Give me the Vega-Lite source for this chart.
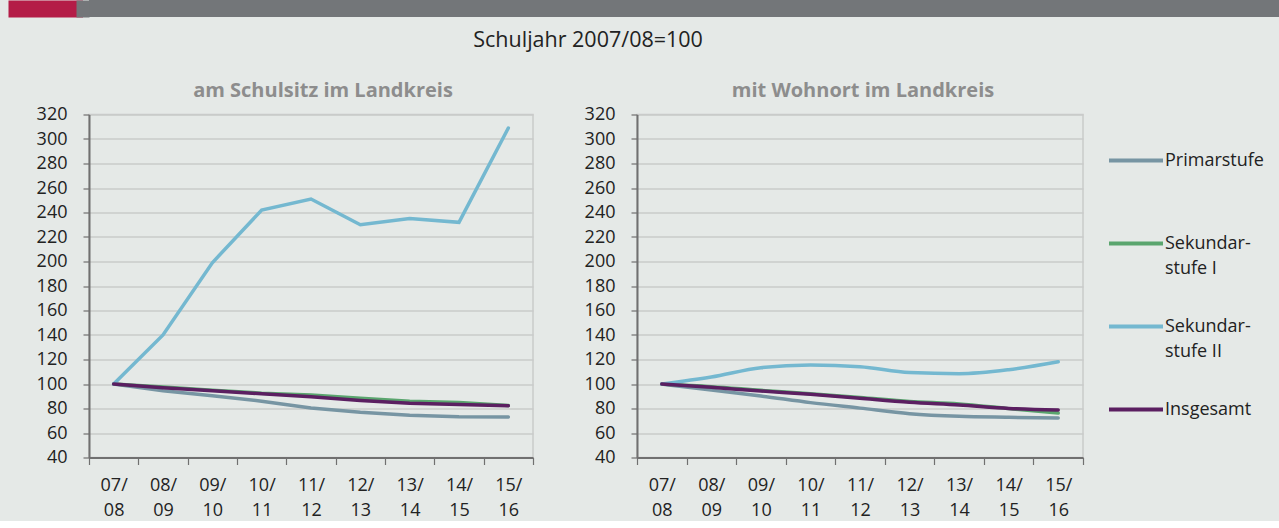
{
  "$schema": "https://vega.github.io/schema/vega-lite/v6.json",
  "background": "#e5e9e7",
  "padding": {"left": 0, "top": 0, "right": 0, "bottom": 0},
  "datasets": {
    "schuljahre": [
      {"Bezug": "Schulsitz", "Stufe": "Primarstufe", "Schuljahr": "07/08", "Index": 100},
      {"Bezug": "Schulsitz", "Stufe": "Primarstufe", "Schuljahr": "08/09", "Index": 94.5},
      {"Bezug": "Schulsitz", "Stufe": "Primarstufe", "Schuljahr": "09/10", "Index": 90.5},
      {"Bezug": "Schulsitz", "Stufe": "Primarstufe", "Schuljahr": "10/11", "Index": 86},
      {"Bezug": "Schulsitz", "Stufe": "Primarstufe", "Schuljahr": "11/12", "Index": 80.5},
      {"Bezug": "Schulsitz", "Stufe": "Primarstufe", "Schuljahr": "12/13", "Index": 77},
      {"Bezug": "Schulsitz", "Stufe": "Primarstufe", "Schuljahr": "13/14", "Index": 74.5},
      {"Bezug": "Schulsitz", "Stufe": "Primarstufe", "Schuljahr": "14/15", "Index": 73.3},
      {"Bezug": "Schulsitz", "Stufe": "Primarstufe", "Schuljahr": "15/16", "Index": 73},
      {"Bezug": "Schulsitz", "Stufe": "Sekundarstufe I", "Schuljahr": "07/08", "Index": 100},
      {"Bezug": "Schulsitz", "Stufe": "Sekundarstufe I", "Schuljahr": "08/09", "Index": 97.5},
      {"Bezug": "Schulsitz", "Stufe": "Sekundarstufe I", "Schuljahr": "09/10", "Index": 95},
      {"Bezug": "Schulsitz", "Stufe": "Sekundarstufe I", "Schuljahr": "10/11", "Index": 92.5},
      {"Bezug": "Schulsitz", "Stufe": "Sekundarstufe I", "Schuljahr": "11/12", "Index": 91},
      {"Bezug": "Schulsitz", "Stufe": "Sekundarstufe I", "Schuljahr": "12/13", "Index": 88.3},
      {"Bezug": "Schulsitz", "Stufe": "Sekundarstufe I", "Schuljahr": "13/14", "Index": 86},
      {"Bezug": "Schulsitz", "Stufe": "Sekundarstufe I", "Schuljahr": "14/15", "Index": 85},
      {"Bezug": "Schulsitz", "Stufe": "Sekundarstufe I", "Schuljahr": "15/16", "Index": 82.5},
      {"Bezug": "Schulsitz", "Stufe": "Sekundarstufe II", "Schuljahr": "07/08", "Index": 100},
      {"Bezug": "Schulsitz", "Stufe": "Sekundarstufe II", "Schuljahr": "08/09", "Index": 140},
      {"Bezug": "Schulsitz", "Stufe": "Sekundarstufe II", "Schuljahr": "09/10", "Index": 199},
      {"Bezug": "Schulsitz", "Stufe": "Sekundarstufe II", "Schuljahr": "10/11", "Index": 242},
      {"Bezug": "Schulsitz", "Stufe": "Sekundarstufe II", "Schuljahr": "11/12", "Index": 251},
      {"Bezug": "Schulsitz", "Stufe": "Sekundarstufe II", "Schuljahr": "12/13", "Index": 230},
      {"Bezug": "Schulsitz", "Stufe": "Sekundarstufe II", "Schuljahr": "13/14", "Index": 235},
      {"Bezug": "Schulsitz", "Stufe": "Sekundarstufe II", "Schuljahr": "14/15", "Index": 232},
      {"Bezug": "Schulsitz", "Stufe": "Sekundarstufe II", "Schuljahr": "15/16", "Index": 309},
      {"Bezug": "Schulsitz", "Stufe": "Insgesamt", "Schuljahr": "07/08", "Index": 100},
      {"Bezug": "Schulsitz", "Stufe": "Insgesamt", "Schuljahr": "08/09", "Index": 97},
      {"Bezug": "Schulsitz", "Stufe": "Insgesamt", "Schuljahr": "09/10", "Index": 94.5},
      {"Bezug": "Schulsitz", "Stufe": "Insgesamt", "Schuljahr": "10/11", "Index": 92},
      {"Bezug": "Schulsitz", "Stufe": "Insgesamt", "Schuljahr": "11/12", "Index": 89.5},
      {"Bezug": "Schulsitz", "Stufe": "Insgesamt", "Schuljahr": "12/13", "Index": 86.5},
      {"Bezug": "Schulsitz", "Stufe": "Insgesamt", "Schuljahr": "13/14", "Index": 84.3},
      {"Bezug": "Schulsitz", "Stufe": "Insgesamt", "Schuljahr": "14/15", "Index": 83.2},
      {"Bezug": "Schulsitz", "Stufe": "Insgesamt", "Schuljahr": "15/16", "Index": 82.2},
      {"Bezug": "Wohnort", "Stufe": "Primarstufe", "Schuljahr": "07/08", "Index": 100},
      {"Bezug": "Wohnort", "Stufe": "Primarstufe", "Schuljahr": "08/09", "Index": 95},
      {"Bezug": "Wohnort", "Stufe": "Primarstufe", "Schuljahr": "09/10", "Index": 90.2},
      {"Bezug": "Wohnort", "Stufe": "Primarstufe", "Schuljahr": "10/11", "Index": 84.8},
      {"Bezug": "Wohnort", "Stufe": "Primarstufe", "Schuljahr": "11/12", "Index": 80.3},
      {"Bezug": "Wohnort", "Stufe": "Primarstufe", "Schuljahr": "12/13", "Index": 75.8},
      {"Bezug": "Wohnort", "Stufe": "Primarstufe", "Schuljahr": "13/14", "Index": 73.6},
      {"Bezug": "Wohnort", "Stufe": "Primarstufe", "Schuljahr": "14/15", "Index": 72.8},
      {"Bezug": "Wohnort", "Stufe": "Primarstufe", "Schuljahr": "15/16", "Index": 72.2},
      {"Bezug": "Wohnort", "Stufe": "Sekundarstufe I", "Schuljahr": "07/08", "Index": 100},
      {"Bezug": "Wohnort", "Stufe": "Sekundarstufe I", "Schuljahr": "08/09", "Index": 97.8},
      {"Bezug": "Wohnort", "Stufe": "Sekundarstufe I", "Schuljahr": "09/10", "Index": 94.8},
      {"Bezug": "Wohnort", "Stufe": "Sekundarstufe I", "Schuljahr": "10/11", "Index": 92},
      {"Bezug": "Wohnort", "Stufe": "Sekundarstufe I", "Schuljahr": "11/12", "Index": 89},
      {"Bezug": "Wohnort", "Stufe": "Sekundarstufe I", "Schuljahr": "12/13", "Index": 85.8},
      {"Bezug": "Wohnort", "Stufe": "Sekundarstufe I", "Schuljahr": "13/14", "Index": 83.7},
      {"Bezug": "Wohnort", "Stufe": "Sekundarstufe I", "Schuljahr": "14/15", "Index": 79.9},
      {"Bezug": "Wohnort", "Stufe": "Sekundarstufe I", "Schuljahr": "15/16", "Index": 76.3},
      {"Bezug": "Wohnort", "Stufe": "Sekundarstufe II", "Schuljahr": "07/08", "Index": 100},
      {"Bezug": "Wohnort", "Stufe": "Sekundarstufe II", "Schuljahr": "08/09", "Index": 105.7},
      {"Bezug": "Wohnort", "Stufe": "Sekundarstufe II", "Schuljahr": "09/10", "Index": 113.3},
      {"Bezug": "Wohnort", "Stufe": "Sekundarstufe II", "Schuljahr": "10/11", "Index": 115.5},
      {"Bezug": "Wohnort", "Stufe": "Sekundarstufe II", "Schuljahr": "11/12", "Index": 114.1},
      {"Bezug": "Wohnort", "Stufe": "Sekundarstufe II", "Schuljahr": "12/13", "Index": 109.3},
      {"Bezug": "Wohnort", "Stufe": "Sekundarstufe II", "Schuljahr": "13/14", "Index": 108.4},
      {"Bezug": "Wohnort", "Stufe": "Sekundarstufe II", "Schuljahr": "14/15", "Index": 111.7},
      {"Bezug": "Wohnort", "Stufe": "Sekundarstufe II", "Schuljahr": "15/16", "Index": 118.2},
      {"Bezug": "Wohnort", "Stufe": "Insgesamt", "Schuljahr": "07/08", "Index": 100},
      {"Bezug": "Wohnort", "Stufe": "Insgesamt", "Schuljahr": "08/09", "Index": 97.3},
      {"Bezug": "Wohnort", "Stufe": "Insgesamt", "Schuljahr": "09/10", "Index": 94.3},
      {"Bezug": "Wohnort", "Stufe": "Insgesamt", "Schuljahr": "10/11", "Index": 91.6},
      {"Bezug": "Wohnort", "Stufe": "Insgesamt", "Schuljahr": "11/12", "Index": 88.3},
      {"Bezug": "Wohnort", "Stufe": "Insgesamt", "Schuljahr": "12/13", "Index": 85.1},
      {"Bezug": "Wohnort", "Stufe": "Insgesamt", "Schuljahr": "13/14", "Index": 82.9},
      {"Bezug": "Wohnort", "Stufe": "Insgesamt", "Schuljahr": "14/15", "Index": 80.1},
      {"Bezug": "Wohnort", "Stufe": "Insgesamt", "Schuljahr": "15/16", "Index": 78.8}
    ]
  },
  "spacing": 12.5,
  "vconcat": [
    {
      "width": 1191,
      "height": 17,
      "view": {"fill": "#737679", "stroke": null},
      "data": {"values": [{}]},
      "mark": {"type": "point", "opacity": 0},
      "encoding": {
        "y": {"datum": 0.5, "type": "quantitative", "scale": {"domain": [0, 1]},
              "axis": {"title": null, "labels": false, "grid": false, "values": [0.25, 0.75], "offset": 6.5,
                       "tickSize": 74.5, "tickWidth": 8.5, "tickRound": false, "tickColor": "#b41c47", "tickCap": "butt",
                       "domainColor": "#737679", "domainWidth": 13, "domainCap": "butt",
                       "minExtent": 81, "maxExtent": 81}}
      }
    },
    {
      "title": {"text": "Schuljahr 2007/08=100", "fontSize": 21.5, "fontWeight": "normal", "color": "#222222", "anchor": "start", "dx": 473, "offset": 28.5},
      "spacing": 48,
      "resolve": {"legend": {"color": "independent"}},
      "hconcat": [
        {
          "width": 444,
          "height": 343,
          "title": {"text": "am Schulsitz im Landkreis", "fontSize": 20, "fontWeight": "bold", "color": "#8d8d8d", "anchor": "middle", "dx": 12, "offset": 5},
          "data": {"name": "schuljahre"},
          "transform": [{"filter": "datum.Bezug == 'Schulsitz'"}],
          "mark": {"type": "line", "strokeWidth": 3.5, "interpolate": "linear", "strokeCap": "round"},
          "encoding": {
            "x": {"field": "Schuljahr", "type": "ordinal", "bandPosition": 0.5,
                  "scale": {"type": "band", "paddingInner": 0, "paddingOuter": 0},
                  "axis": {"title": null, "tickBand": "extent", "labelAngle": 0, "labelExpr": "[slice(datum.label, 0, 3), slice(datum.label, 3)]"}},
            "y": {"field": "Index", "type": "quantitative", "scale": {"domain": [40, 320], "nice": false, "zero": false},
                  "axis": {"title": null, "values": [40, 60, 80, 100, 120, 140, 160, 180, 200, 220, 240, 260, 280, 300, 320], "minExtent": 88, "maxExtent": 88}},
            "color": {"field": "Stufe", "type": "nominal", "sort": ["Primarstufe", "Sekundarstufe I", "Sekundarstufe II", "Insgesamt"], "legend": null},
            "order": {"field": "Schuljahr"}
          }
        },
        {
          "width": 446,
          "height": 343,
          "title": {"text": "mit Wohnort im Landkreis", "fontSize": 20, "fontWeight": "bold", "color": "#8d8d8d", "anchor": "middle", "dx": 3, "offset": 5},
          "data": {"name": "schuljahre"},
          "transform": [{"filter": "datum.Bezug == 'Wohnort'"}],
          "mark": {"type": "line", "strokeWidth": 3.5, "interpolate": "monotone", "strokeCap": "round"},
          "encoding": {
            "x": {"field": "Schuljahr", "type": "ordinal", "bandPosition": 0.5,
                  "scale": {"type": "band", "paddingInner": 0, "paddingOuter": 0},
                  "axis": {"title": null, "tickBand": "extent", "labelAngle": 0, "labelExpr": "[slice(datum.label, 0, 3), slice(datum.label, 3)]"}},
            "y": {"field": "Index", "type": "quantitative", "scale": {"domain": [40, 320], "nice": false, "zero": false},
                  "axis": {"title": null, "values": [40, 60, 80, 100, 120, 140, 160, 180, 200, 220, 240, 260, 280, 300, 320], "minExtent": 53, "maxExtent": 53}},
            "color": {"field": "Stufe", "type": "nominal", "sort": ["Primarstufe", "Sekundarstufe I", "Sekundarstufe II", "Insgesamt"],
                      "scale": {"domain": ["Primarstufe", "Sekundarstufe I", "Sekundarstufe II", "Insgesamt"], "range": ["#7795a3", "#5aa56e", "#74b8d0", "#5b1f61"]},
                      "legend": {"title": null, "orient": "right", "offset": 7, "padding": 17,
                                 "symbolType": "stroke", "symbolStrokeWidth": 4, "symbolSize": 2916,
                                 "labelFontSize": 18, "labelColor": "#222222", "labelOffset": 0, "labelLimit": 200,
                                 "rowPadding": 20,
                                 "labelExpr": "datum.label == 'Sekundarstufe I' ? ['Sekundar-', 'stufe I'] : datum.label == 'Sekundarstufe II' ? ['Sekundar-', 'stufe II'] : [datum.label, '']"}},
            "order": {"field": "Schuljahr"}
          }
        }
      ]
    }
  ],
  "config": {
    "font": "Open Sans",
    "view": {"stroke": "#c9cbca", "strokeWidth": 1.5},
    "style": {"guide-label": {"lineHeight": 25}},
    "axis": {
      "labelFontSize": 18,
      "labelColor": "#222222",
      "domainColor": "#707070",
      "domainWidth": 2,
      "tickColor": "#707070",
      "tickWidth": 1.2,
      "gridColor": "#c9cbca",
      "gridWidth": 1.5
    },
    "axisX": {"grid": false, "tickSize": 7, "labelPadding": 12},
    "axisY": {"grid": true, "tickSize": 6, "labelPadding": 16}
  }
}
